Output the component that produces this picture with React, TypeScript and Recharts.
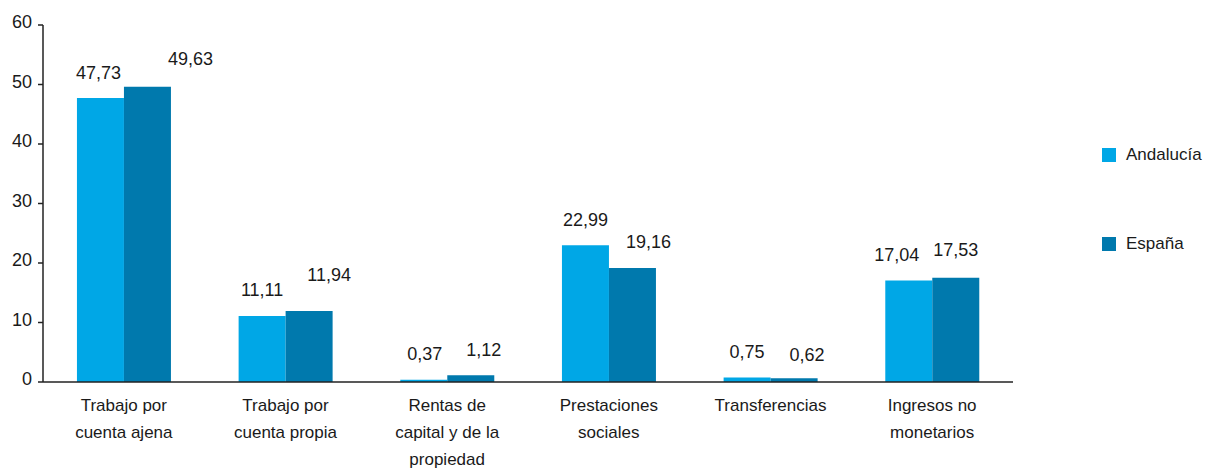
import { Bar, BarChart, LabelList, Legend, XAxis, YAxis } from "recharts";

const CATEGORIES = [
  "Trabajo por|cuenta ajena",
  "Trabajo por|cuenta propia",
  "Rentas de|capital y de la|propiedad",
  "Prestaciones|sociales",
  "Transferencias",
  "Ingresos no|monetarios",
];
const ANDALUCIA = [47.73, 11.11, 0.37, 22.99, 0.75, 17.04];
const ESPANA = [49.63, 11.94, 1.12, 19.16, 0.62, 17.53];
const Y_TICKS = [0, 10, 20, 30, 40, 50, 60];

const COLORS = { andalucia: "#00a7e6", espana: "#0079ad" };
const FONT = "'Liberation Sans', Arial, sans-serif";
const TEXT = "#1a1a1a";

// the source nudges some labels sideways/upwards by hand
const AND_DX = [-2, 0, 1, 0, 0, -12];
const AND_DY = [0, 0, 0, 0, 0, 0];
const ESP_DX = [43, 20, 13, 16, 13, 0];
const ESP_DY = [-2, -10, 0, 0, 2, -2];

const data = CATEGORIES.map((c, i) => ({
  name: c,
  andalucia: ANDALUCIA[i],
  espana: ESPANA[i],
}));

const fmt = (v: number) => v.toFixed(2).replace(".", ",");

function ValueLabel(props: any, dxs: number[], dys: number[]) {
  const { x, y, width, value, index } = props;
  return (
    <text
      x={Number(x) + Number(width) / 2 + dxs[index]}
      y={Number(y) - 19.5 + dys[index]}
      textAnchor="middle"
      fill={TEXT}
      fontSize={18}
      fontFamily={FONT}
    >
      {fmt(Number(value))}
    </text>
  );
}

function CategoryTick({ x, y, payload }: any) {
  const lines = String(payload.value).split("|");
  return (
    <text x={x} y={y} textAnchor="middle" fill={TEXT} fontSize={17} fontFamily={FONT}>
      {lines.map((l, i) => (
        <tspan key={i} x={x} dy={i === 0 ? 29 : 27}>
          {l}
        </tspan>
      ))}
    </text>
  );
}

function LegendBox() {
  const items = [
    { label: "Andalucía", color: COLORS.andalucia },
    { label: "España", color: COLORS.espana },
  ];
  return (
    <div style={{ fontFamily: FONT, fontSize: 17, color: TEXT }}>
      {items.map((it, i) => (
        <div
          key={it.label}
          style={{ display: "flex", alignItems: "center", height: 20, marginTop: i === 0 ? 0 : 69 }}
        >
          <span style={{ width: 14, height: 14, background: it.color, display: "inline-block", marginRight: 10 }} />
          <span>{it.label}</span>
        </div>
      ))}
    </div>
  );
}

export default function App() {
  return (
    <div style={{ position: "absolute", left: 0, top: 0, width: 1205, height: 470, background: "#fff" }}>
      <BarChart
        width={1205}
        height={470}
        data={data}
        margin={{ top: 25, right: 192, bottom: 8, left: 0 }}
        barCategoryGap="21%"
        barGap={0}
      >
        <XAxis
          dataKey="name"
          tick={<CategoryTick />}
          tickLine={false}
          tickSize={0}
          tickMargin={0}
          height={80}
          interval={0}
          axisLine={{ stroke: "#222", strokeWidth: 1.5 }}
        />
        <YAxis
          domain={[0, 60]}
          ticks={Y_TICKS}
          width={43}
          tickSize={5}
          tickMargin={6}
          tick={{ fill: TEXT, fontSize: 18, fontFamily: FONT, dy: -3 }}
          tickLine={{ stroke: "#222", strokeWidth: 1.5 }}
          axisLine={{ stroke: "#222", strokeWidth: 1.5 }}
        />
        <Legend
          layout="horizontal"
          verticalAlign="middle"
          content={() => <LegendBox />}
          wrapperStyle={{ left: 1102, top: 145, width: 110, height: 120 }}
        />
        <Bar dataKey="andalucia" name="Andalucía" fill={COLORS.andalucia} isAnimationActive={false}>
          <LabelList dataKey="andalucia" content={(p: any) => ValueLabel(p, AND_DX, AND_DY)} />
        </Bar>
        <Bar dataKey="espana" name="España" fill={COLORS.espana} isAnimationActive={false}>
          <LabelList dataKey="espana" content={(p: any) => ValueLabel(p, ESP_DX, ESP_DY)} />
        </Bar>
      </BarChart>
    </div>
  );
}
